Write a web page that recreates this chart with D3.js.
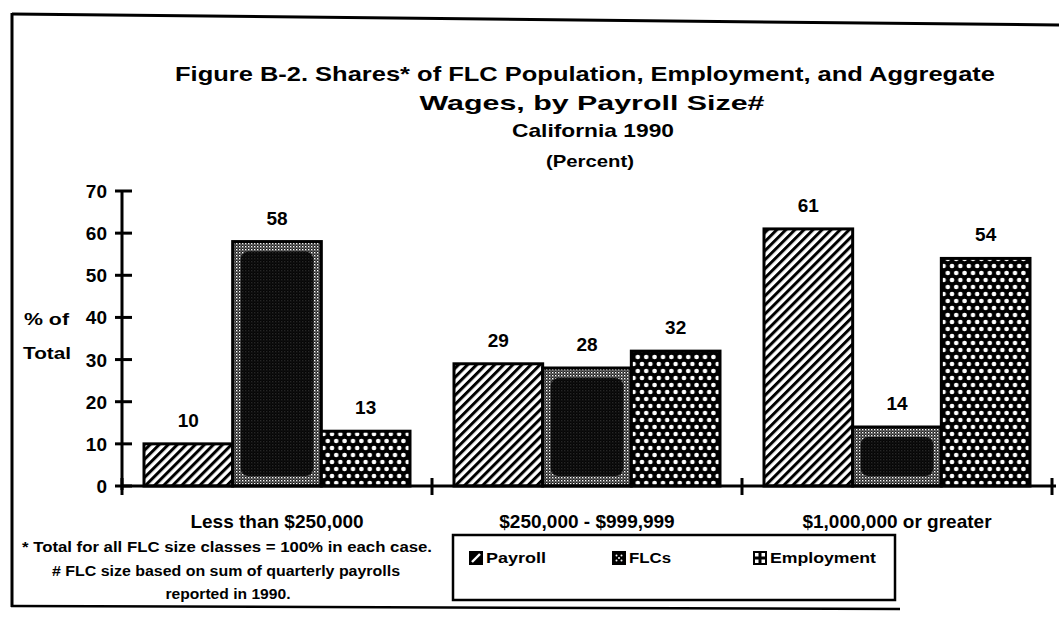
<!DOCTYPE html>
<html>
<head>
<meta charset="utf-8">
<script src="https://cdn.jsdelivr.net/npm/d3@7"></script>
<style>
  body { margin: 0; background: #fff; }
  svg { display: block; }
  text { font-family: "Liberation Sans", Arial, sans-serif; fill: #000; }
</style>
</head>
<body>
<svg id="chart" width="1059" height="626"></svg>
<script>
// Chart data
const categories = ["Less than $250,000", "$250,000 - $999,999", "$1,000,000 or greater"];
const seriesNames = ["Payroll", "FLCs", "Employment"];
const payroll = [10, 29, 61];
const flcs = [58, 28, 14];
const employment = [13, 32, 54];
const yTicks = [0, 10, 20, 30, 40, 50, 60, 70];

const titleLines = [
    "Figure B-2. Shares* of FLC Population, Employment, and Aggregate",
    "Wages, by Payroll Size#",
    "California 1990",
    "(Percent)"
];
const footnotes = [
    "* Total for all FLC size classes = 100% in each case.",
    "# FLC size based on sum of quarterly payrolls",
    "reported in 1990."
];

const seriesValues = { "Payroll": payroll, "FLCs": flcs, "Employment": employment };

const svg = d3.select("#chart");
const defs = svg.append("defs");

// Plot area
const plot = { left: 122, right: 1052, top: 191, bottom: 486 };

const x = d3.scaleBand()
    .domain(categories)
    .range([plot.left, plot.right]);

const xInner = d3.scaleBand()
    .domain(seriesNames)
    .range([22, x.bandwidth() - 22]);

const y = d3.scaleLinear()
    .domain([0, 70])
    .range([plot.bottom, plot.top]);

// Fill patterns: diagonal hatch, dark stipple, white dots on black
const hatch = defs.append("pattern")
    .attr("id", "hatch")
    .attr("patternUnits", "userSpaceOnUse")
    .attr("width", 6.4).attr("height", 6.4)
    .attr("patternTransform", "rotate(45)");
hatch.append("rect").attr("width", 6.4).attr("height", 6.4).attr("fill", "#fff");
hatch.append("rect").attr("x", 0).attr("width", 3).attr("height", 6.4).attr("fill", "#000");

const stipple = defs.append("pattern")
    .attr("id", "stipple")
    .attr("patternUnits", "userSpaceOnUse")
    .attr("width", 3).attr("height", 3);
stipple.append("rect").attr("width", 3).attr("height", 3).attr("fill", "#222");
stipple.append("rect").attr("width", 1.4).attr("height", 1.4).attr("fill", "#fff");
stipple.append("rect").attr("x", 1.5).attr("y", 1.5).attr("width", 1).attr("height", 1).attr("fill", "#ccc");

// staggered white dots: one row every 7px, offset half a step on alternate rows
const dotW = 8.4, dotH = 14;
const dots = defs.append("pattern")
    .attr("id", "dots")
    .attr("patternUnits", "userSpaceOnUse")
    .attr("width", dotW).attr("height", dotH);
dots.append("rect").attr("width", dotW).attr("height", dotH).attr("fill", "#000");
[[0, 0], [dotW, 0], [0, dotH], [dotW, dotH], [dotW / 2, dotH / 2]].forEach(([cx, cy]) => {
    dots.append("circle").attr("cx", cx).attr("cy", cy).attr("r", 2.3).attr("fill", "#fff");
});

const fills = { "Payroll": "url(#hatch)", "FLCs": "url(#stipple)", "Employment": "url(#dots)" };

// Outer frame (left, top and bottom edges only, as in the scan)
svg.append("line")
    .attr("x1", 12).attr("y1", 14).attr("x2", 1059).attr("y2", 25)
    .attr("stroke", "#000").attr("stroke-width", 3);
svg.append("line")
    .attr("x1", 12).attr("y1", 13).attr("x2", 12).attr("y2", 607)
    .attr("stroke", "#000").attr("stroke-width", 3);
svg.append("line")
    .attr("x1", 11).attr("y1", 606).attr("x2", 900).attr("y2", 609)
    .attr("stroke", "#000").attr("stroke-width", 2.5);

// Title block
const titleSpecs = [
    { cx: 585, y: 81, size: 21, len: 820 },
    { cx: 592, y: 110, size: 21, len: 345 },
    { cx: 593, y: 137, size: 19, len: 162 },
    { cx: 590, y: 167, size: 17, len: 88 }
];
titleLines.forEach((t, i) => {
    const s = titleSpecs[i];
    svg.append("text")
        .attr("x", s.cx - s.len / 2)
        .attr("y", s.y)
        .attr("font-size", s.size)
        .attr("font-weight", "bold")
        .attr("textLength", s.len)
        .attr("lengthAdjust", "spacingAndGlyphs")
        .text(t);
});

// Bars
const groups = svg.append("g")
    .selectAll("g")
    .data(categories)
    .join("g")
    .attr("transform", d => `translate(${x(d)},0)`);

groups.selectAll("rect.bar")
    .data((d, i) => seriesNames.map(s => ({ series: s, value: seriesValues[s][i] })))
    .join("rect")
    .attr("class", "bar")
    .attr("x", d => xInner(d.series))
    .attr("y", d => y(d.value))
    .attr("width", xInner.bandwidth())
    .attr("height", d => y(0) - y(d.value))
    .attr("fill", d => fills[d.series])
    .attr("stroke", "#000")
    .attr("stroke-width", 3);

// FLC bars print almost solid black in the middle, lighter stipple round the edge
groups.selectAll("rect.core")
    .data((d, i) => [{ series: "FLCs", value: flcs[i] }])
    .join("rect")
    .attr("class", "core")
    .attr("x", d => xInner(d.series) + 8)
    .attr("y", d => y(d.value) + 10)
    .attr("width", xInner.bandwidth() - 16)
    .attr("height", d => Math.max(0, y(0) - y(d.value) - 20))
    .attr("rx", 8)
    .attr("fill", "#000")
    .attr("opacity", 0.85);

// Value labels above bars
groups.selectAll("text.value")
    .data((d, i) => seriesNames.map(s => ({ series: s, value: seriesValues[s][i] })))
    .join("text")
    .attr("class", "value")
    .attr("x", d => xInner(d.series) + xInner.bandwidth() / 2)
    .attr("y", d => y(d.value) - 17)
    .attr("text-anchor", "middle")
    .attr("font-size", 19)
    .attr("font-weight", "bold")
    .text(d => d.value);

// Y axis with crossing ticks
const yAxis = svg.append("g").attr("transform", `translate(${plot.left},0)`);
yAxis.append("line")
    .attr("y1", y(0) + 4).attr("y2", y(70))
    .attr("stroke", "#000").attr("stroke-width", 3);
yAxis.selectAll("line.tick")
    .data(yTicks)
    .join("line")
    .attr("class", "tick")
    .attr("x1", -7).attr("x2", 10)
    .attr("y1", d => y(d)).attr("y2", d => y(d))
    .attr("stroke", "#000").attr("stroke-width", 3);
yAxis.selectAll("text")
    .data(yTicks)
    .join("text")
    .attr("x", -15)
    .attr("y", d => y(d) + 7)
    .attr("text-anchor", "end")
    .attr("font-size", 19)
    .attr("font-weight", "bold")
    .text(d => d);

svg.append("text")
    .attr("x", 24).attr("y", 325)
    .attr("font-size", 17).attr("font-weight", "bold")
    .attr("textLength", 45).attr("lengthAdjust", "spacingAndGlyphs")
    .text("% of");
svg.append("text")
    .attr("x", 23).attr("y", 359)
    .attr("font-size", 17).attr("font-weight", "bold")
    .attr("textLength", 48).attr("lengthAdjust", "spacingAndGlyphs")
    .text("Total");

// X axis with ticks at the group boundaries
const xEdges = categories.map(c => x(c)).concat([plot.right]);
svg.append("line")
    .attr("x1", plot.left).attr("x2", plot.right + 4)
    .attr("y1", y(0)).attr("y2", y(0))
    .attr("stroke", "#000").attr("stroke-width", 3);
svg.append("g")
    .selectAll("line")
    .data(xEdges)
    .join("line")
    .attr("x1", d => d).attr("x2", d => d)
    .attr("y1", y(0) - 8).attr("y2", y(0) + 9)
    .attr("stroke", "#000").attr("stroke-width", 3);

svg.append("g")
    .selectAll("text")
    .data(categories)
    .join("text")
    .attr("x", d => x(d) + x.bandwidth() / 2)
    .attr("y", 528)
    .attr("text-anchor", "middle")
    .attr("font-size", 19)
    .attr("font-weight", "bold")
    .text(d => d);

// Footnotes
const footSpecs = [
    { cx: 227, y: 552, len: 410 },
    { cx: 226, y: 576, len: 348 },
    { cx: 228, y: 599, len: 125 }
];
footnotes.forEach((t, i) => {
    const s = footSpecs[i];
    svg.append("text")
        .attr("x", s.cx - s.len / 2)
        .attr("y", s.y)
        .attr("font-size", 14)
        .attr("font-weight", "bold")
        .attr("textLength", s.len)
        .attr("lengthAdjust", "spacingAndGlyphs")
        .text(t);
});

// Legend box
const legend = svg.append("g");
legend.append("rect")
    .attr("x", 453).attr("y", 535)
    .attr("width", 442).attr("height", 65)
    .attr("fill", "#fff")
    .attr("stroke", "#000").attr("stroke-width", 2.5);

const legendX = [469, 612, 753];
const legendLen = [60, 42, 106];
const legendY = 558;

const items = legend.selectAll("g.item")
    .data(seriesNames)
    .join("g")
    .attr("class", "item")
    .attr("transform", (d, i) => `translate(${legendX[i]},${legendY})`);

items.append("rect")
    .attr("x", 0).attr("y", -7)
    .attr("width", 14).attr("height", 14)
    .attr("fill", "#000");

// little white glyph inside each swatch
items.filter(d => d === "Payroll").append("line")
    .attr("x1", 3).attr("y1", 4).attr("x2", 11).attr("y2", -4)
    .attr("stroke", "#fff").attr("stroke-width", 2.4);
items.filter(d => d === "FLCs").selectAll("circle")
    .data([[4.5, -2.5], [9.5, -2.5], [7, 0], [4.5, 2.5], [9.5, 2.5]])
    .join("circle")
    .attr("cx", d => d[0]).attr("cy", d => d[1]).attr("r", 1)
    .attr("fill", "#fff");
items.filter(d => d === "Employment").selectAll("rect.dot")
    .data([[2, -5], [8.5, -5], [2, 1.5], [8.5, 1.5]])
    .join("rect")
    .attr("class", "dot")
    .attr("x", d => d[0]).attr("y", d => d[1]).attr("width", 3.5).attr("height", 3.5)
    .attr("fill", "#fff");

items.append("text")
    .attr("x", 17).attr("y", 5)
    .attr("font-size", 14)
    .attr("font-weight", "bold")
    .attr("textLength", (d, i) => legendLen[i])
    .attr("lengthAdjust", "spacingAndGlyphs")
    .text(d => d);
</script>
</body>
</html>
